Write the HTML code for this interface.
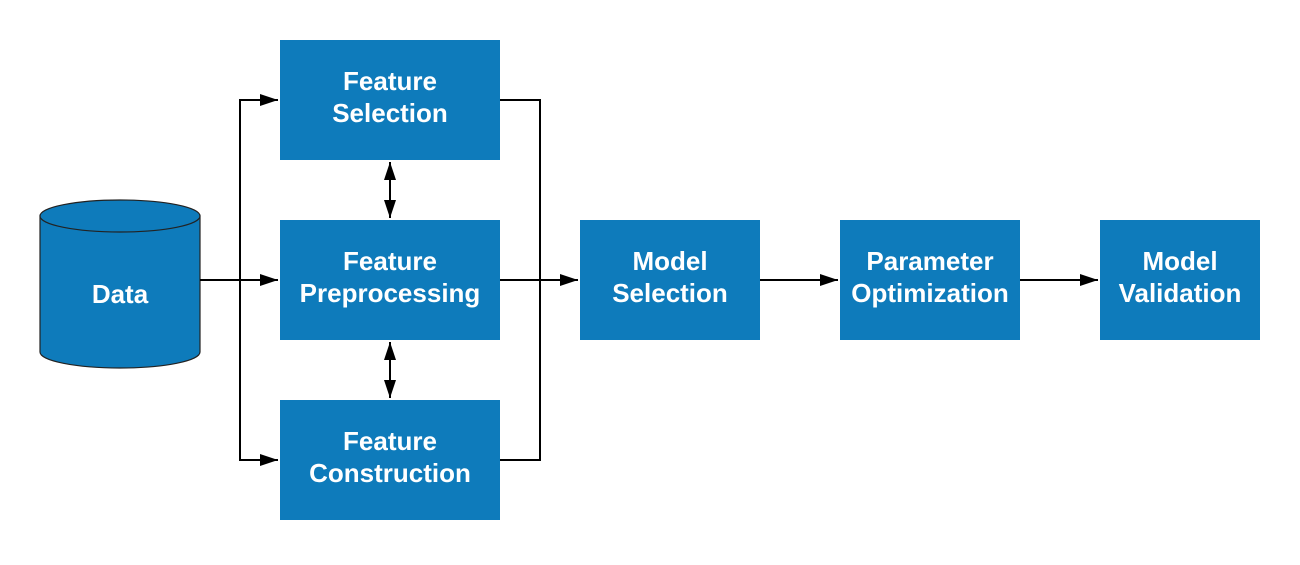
<!DOCTYPE html>
<html><head><style>html,body{margin:0;background:#fff}</style></head><body>
<svg width="1300" height="560" xmlns="http://www.w3.org/2000/svg" font-family="Liberation Sans, Arial, sans-serif" font-weight="bold" font-size="26">
<defs>
<marker id="a" markerWidth="18" markerHeight="12" refX="18" refY="6" orient="auto-start-reverse" markerUnits="userSpaceOnUse"><path d="M0,0L18,6L0,12z" fill="#000"/></marker>
</defs>
<rect width="1300" height="560" fill="#fff"/>
<g fill="#0e7bbb">
<path d="M40,216 L40,352 A80,16 0 0 0 200,352 L200,216 Z" stroke="#222" stroke-width="1.2"/>
<ellipse cx="120" cy="216" rx="80" ry="16" stroke="#222" stroke-width="1.2"/>
<rect x="280" y="40" width="220" height="120"/>
<rect x="280" y="220" width="220" height="120"/>
<rect x="280" y="400" width="220" height="120"/>
<rect x="580" y="220" width="180" height="120"/>
<rect x="840" y="220" width="180" height="120"/>
<rect x="1100" y="220" width="160" height="120"/>
</g>
<g fill="none" stroke="#000" stroke-width="2">
<path d="M200,280H278" marker-end="url(#a)"/>
<path d="M240,280V100H278" marker-end="url(#a)"/>
<path d="M240,280V460H278" marker-end="url(#a)"/>
<path d="M500,100H540V460H500"/>
<path d="M500,280H578" marker-end="url(#a)"/>
<path d="M760,280H838" marker-end="url(#a)"/>
<path d="M1020,280H1098" marker-end="url(#a)"/>
<path d="M390,162V218" marker-start="url(#a)" marker-end="url(#a)"/>
<path d="M390,342V398" marker-start="url(#a)" marker-end="url(#a)"/>
</g>
<g fill="#fff" text-anchor="middle">
<text x="120" y="303">Data</text>
<text x="390" y="90">Feature</text><text x="390" y="122">Selection</text>
<text x="390" y="270">Feature</text><text x="390" y="302">Preprocessing</text>
<text x="390" y="450">Feature</text><text x="390" y="482">Construction</text>
<text x="670" y="270">Model</text><text x="670" y="302">Selection</text>
<text x="930" y="270">Parameter</text><text x="930" y="302">Optimization</text>
<text x="1180" y="270">Model</text><text x="1180" y="302">Validation</text>
</g>
</svg>
</body></html>
